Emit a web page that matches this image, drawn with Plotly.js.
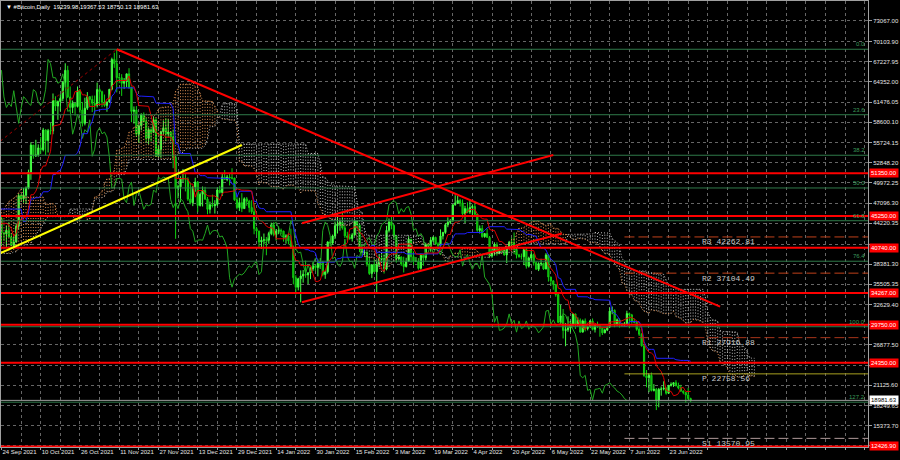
<!DOCTYPE html>
<html><head><meta charset="utf-8">
<script src="https://cdn.plot.ly/plotly-3.0.1.min.js"></script>
<style>html,body{margin:0;padding:0;background:#000;}#chart{width:900px;height:460px;}</style>
</head><body><div id="chart"></div>
<script>
// ---------- DATA (daily bars, first bar 2021-07-05) ----------
const startDate = '2021-07-05';
const closes = [
33800,34200,33900,32900,33800,33500,34250,33100,32700,32800,31800,31400,31550,31800,30800,29800,32100,32300,33600,34300,35400,37300,39400,40000,40000,42200,41600,
39900,39200,38150,39750,40900,42800,44600,43800,46300,45600,45600,44400,47800,47100,47050,45900,44700,44800,46700,49300,48900,49300,49550,47700,48950,46900,49100,48900,48800,47000,47150,
48850,49300,50000,49950,51750,52650,46800,46100,46400,44850,45150,46050,44950,47100,48150,47750,47300,48300,47250,42850,40700,43550,44900,42850,42700,43200,42250,41050,41550,43800,
48150,47700,48200,49250,51500,55350,53800,53950,54950,54700,57500,56000,57400,57350,61700,60900,61550,62000,64300,66000,62200,60700,61300,60850,63100,60350,58450,60600,62250,61850,61300,
61000,63250,62950,61450,61000,61500,63300,67550,66950,64950,64950,64150,64400,65500,63600,60150,60350,56900,58100,59750,58700,56300,57550,57150,58950,53750,54750,57250,57800,56950,
57200,56500,53600,49200,49400,50550,50600,50500,47650,47150,49400,50100,46750,48350,48900,47650,46200,46850,46700,46900,48950,48600,50800,50450,50800,50650,50650,47550,46450,47150,46300,
47700,47350,46450,45850,43450,43100,41550,41800,41850,41800,42750,43950,42600,43100,43200,43100,42250,42400,41700,40700,36450,35100,36300,36700,36950,36850,37150,37700,38150,37900,38500,
38700,36900,37300,41550,41400,42400,43850,44100,44350,43550,42400,42200,42050,42550,44550,43950,40550,40000,40100,38400,37050,38300,37300,38350,39250,39100,37700,43200,
44400,43900,42450,39150,39400,38400,38050,38750,41950,39450,38750,38800,37800,39650,39300,41150,40950,41800,42200,41250,41050,42400,42900,44000,44350,44550,46850,47100,47450,47100,45550,
46300,45800,46450,46600,45500,43200,43450,42300,42750,42200,39550,40100,41150,39950,40550,40400,39700,40800,41500,41400,40500,39700,39450,39450,40450,38100,39250,39750,38600,37650,
38450,38500,37700,39700,36550,36000,35500,34050,30100,31000,28950,29050,29300,29850,31300,29850,30400,28700,30300,29200,29450,30300,29100,29650,29550,29250,28600,29000,29450,31700,31800,
29800,30450,29700,29850,29900,31350,31150,30200,30100,29100,28400,26750,22500,22200,22550,20400,20550,19000,20550,20600,20700,20000,21100,21250,21500,21050,20750,20300,20100,19750,
19239.98,18981.63];
const highs = [
35000,35000,35000,33900,34100,34250,34600,34650,33300,33100,33200,32200,31950,32400,31900,31050,32800,32550,33650,34500,35400,40500,39500,40900,40600,42300,42400,
42600,40400,39800,39950,41400,43000,44700,45300,46450,46700,46750,46200,47900,48100,47400,48000,47100,46000,47000,49300,49750,49500,50500,49800,49300,49200,49150,49300,49600,48900,48100,
48950,50350,51000,50550,51850,52900,52850,47350,47300,47000,45950,46400,46550,47200,48450,48500,48150,48800,48350,47300,43600,44000,45000,45100,42950,43900,44350,42800,42600,44100,
48450,48350,49250,49450,51850,55750,55300,56100,55450,56500,57800,57600,57650,58500,62700,62300,61700,62600,64450,67000,66650,63700,61700,61450,63700,63300,61500,62100,62900,62300,62400,
62400,64250,63500,63100,62550,61550,63300,67800,68500,69000,65600,65450,64900,65500,66300,63600,60850,60900,58300,59850,60000,59250,57850,57750,59400,59200,55250,57400,58850,59200,
59050,57350,57600,53850,49700,50900,51950,51200,50750,50050,49450,50700,50200,48600,49450,49400,47950,47300,48300,47500,49300,49550,51350,51800,51100,51250,52050,50700,48100,47850,48500,
47900,47950,47550,47500,47050,43700,43150,42300,42750,42250,43000,44300,44350,43400,43750,43450,43150,42650,42550,43450,41050,36800,36450,37500,37550,38900,37200,38000,38650,38300,38700,
39250,38850,37400,41650,41900,42600,44450,45400,44750,45800,43900,43000,42700,42800,44700,44500,44150,40900,40400,40200,39450,38400,39100,38950,39700,40100,39800,43850,
44900,45350,44050,42500,39700,39500,39450,39300,42350,41950,40200,39400,39250,39900,39800,41450,41300,42250,42350,42300,41500,43350,43000,44200,45050,44800,46900,48200,48100,47700,47600,
46700,47200,47450,46900,47150,45500,43900,43950,42800,43400,42400,40650,41500,41500,40850,40700,40600,40950,41700,42150,42900,40800,39850,39900,40600,40750,39450,40300,39900,38750,
38650,39150,38600,39950,39800,36600,36100,35500,34250,32600,32000,30000,30950,30300,31400,31250,30800,30650,30500,30650,29600,30400,30650,29800,30200,29850,29350,29200,29500,32200,32350,
31950,30650,30650,29950,30150,31750,31500,31300,30650,30300,29400,28550,26850,23300,22750,22950,21300,20750,20750,20950,21700,20850,21200,21550,21550,21850,21500,21200,20400,20150,
20750,19367.53];
const lows = [
33200,33600,33800,32100,32300,33100,33400,32700,32300,31600,31200,31100,31200,31200,30500,29300,29500,31700,32000,33400,33900,35300,36400,38800,39300,38300,41000,
39500,38700,37600,37700,37400,39900,42500,43400,42900,44700,45400,43800,44200,45800,45600,45700,44500,44300,43950,46650,48300,48000,49050,47600,47200,46400,46400,48400,48400,46900,46800,
46800,48650,48800,49550,49500,50950,43000,44500,45550,44200,44800,44750,43400,44750,46800,47050,46800,47050,46900,42500,39600,40550,43100,40950,41700,40850,42150,40900,40800,41450,
43300,47450,47150,46950,49050,50400,53400,53650,53700,54100,54450,53900,54300,56850,56900,60200,58950,60150,61600,63550,62050,60050,59900,59550,60700,59850,58000,58150,60350,60750,60050,
59600,60700,61000,60750,60800,60100,61400,63150,66350,62850,64150,62350,63350,63600,63350,58600,58400,56500,55650,57450,58550,55700,55450,55850,57050,53650,53750,53550,56750,55900,
56550,55850,52050,42000,47750,47200,50050,48750,47400,46900,46650,48700,45800,46600,46600,47550,45500,45600,46450,45600,46650,48450,48100,50400,50200,49600,50450,47400,46200,45950,45800,
46250,46700,45750,45550,42650,42500,40800,40550,41250,39650,41300,42500,42350,41750,42650,42650,41600,41300,41200,40600,35500,34050,34650,32950,35750,36450,35550,36250,37400,37400,36650,
38050,36650,36300,37050,40950,41150,41950,42750,43150,43300,42100,41750,41850,41600,42450,43350,40100,39500,39650,38050,36850,36400,37250,34350,38050,38650,37050,37500,
42900,43350,41900,38600,38900,38150,37200,37900,38700,38600,38250,38700,37600,37600,38150,38900,40550,40150,41550,41100,40550,40900,41900,42700,43650,44100,44450,46700,46950,46600,45200,
44250,45650,45550,45150,45400,43000,42750,42150,42150,42150,39250,39300,39600,39600,39800,40050,39600,38550,40600,40900,39800,39200,39300,39050,38250,37750,37900,38900,38200,37600,
37400,38100,37550,37650,35900,35300,34750,33750,30000,29750,27800,26700,28750,28650,29500,29150,29500,28650,28700,28800,28950,29450,28950,28650,29300,28050,28300,28550,28850,29300,31250,
29400,29600,29350,29500,29500,29900,29250,29900,29950,28900,28150,26650,22350,20850,20150,20250,20250,17600,18000,19650,20400,19800,19900,20950,20900,21000,20550,20200,19850,18650,
19000,18750.13];

// axis ticks
const dateTicks = ['2021-09-24','2021-10-10','2021-10-26','2021-11-11','2021-11-27','2021-12-13','2021-12-29','2022-01-14','2022-01-30','2022-02-15','2022-03-03','2022-03-19','2022-04-04','2022-04-20','2022-05-06','2022-05-22','2022-06-07','2022-06-23'];
const priceTicks = [73067.00,70103.90,67227.95,64352.00,61476.05,58600.10,55724.15,52848.20,49972.25,47096.30,44220.35,41257.25,38381.30,35505.35,32629.40,29753.45,26877.50,24001.55,21125.60,18249.65,15373.70,12497.75];
// labels hidden behind the level boxes are left blank
const priceTickText = ['73067.00','70103.90','67227.95','64352.00','61476.05','58600.10','55724.15','52848.20','49972.25','47096.30','44220.35','','38381.30','35505.35','32629.40','','26877.50','','21125.60','18249.65','15373.70',''];

// horizontal support / resistance levels
const levelPrices = [51350.00,45250.00,40740.00,34267.00,29750.00,24350.00,12426.90];
const levelText = ['51350.00','45250.00','40740.00','34267.00','29750.00','24350.00','12426.90'];

// fibonacci retracement
const fibPrices = [69000,59672,53902,49238,44574,38804,29476,18725];
const fibText = ['0.0','23.6','38.2','50.0','61.8','76.4','100.0','127.2'];

// monthly pivots
const pivotNames = ['R3','R2','R1','P','S1'];
const pivotPrices = [42262.81,37104.49,27916.88,22758.56,13570.95];
const pivotStart = '2022-06-05';
const pivotLabelDate = '2022-07-06';

// trend lines
const trendStartDates = ['2021-11-10','2022-01-24 12:00','2022-01-24 12:00','2021-09-23 12:00','2021-09-23 12:00'];
const trendStartPrices = [69000,44207,32953,39947,55900];
const trendEndDates = ['2022-07-14','2022-05-07','2022-05-10 12:00','2021-12-31','2021-11-10'];
const trendEndPrices = [32328,53936,42755,55361,69000];

const lastPrice = 18981.63;
const headerText = '▼ #Bitcoin,Daily\u00a0\u00a019239.98 19367.53 18750.13 18981.63';

// ---------- BUILD ----------
function addDays(iso, n){ const d = new Date(iso + 'T00:00:00Z'); d.setUTCDate(d.getUTCDate() + n); return d.toISOString().slice(0,10); }
const N = closes.length;
const dates = closes.map((c,i)=>addDays(startDate,i));
const opens = closes.map((c,i)=> i===0 ? c : closes[i-1]);
const hi = highs.map((h,i)=>Math.max(h,opens[i],closes[i]));
const lo = lows.map((l,i)=>Math.min(l,opens[i],closes[i]));

function mid(i,n){ let h=-Infinity,l=Infinity; for(let k=i-n+1;k<=i;k++){ h=Math.max(h,hi[k]); l=Math.min(l,lo[k]); } return (h+l)/2; }
const tenX=[],tenY=[],kijX=[],kijY=[],chX=[],chY=[];
const spanA = {}, spanB = {};
for(let i=0;i<N;i++){
  if(i>=25){ tenX.push(dates[i]); tenY.push(mid(i,9)); kijX.push(dates[i]); kijY.push(mid(i,26));
    spanA[i+26] = (mid(i,9)+mid(i,26))/2; }
  if(i>=51){ spanB[i+26] = mid(i,52); }
  if(i>=26){ chX.push(dates[i-26]); chY.push(closes[i]); }
}
const upX=[],upY=[],dnX=[],dnY=[],aX=[],aY=[],bX=[],bY=[];
for(let j=51+26;j<N+26;j++){
  const d = addDays(startDate,j), A = spanA[j], B = spanB[j];
  aX.push(d); aY.push(A); bX.push(d); bY.push(B);
  if(A>=B){ upX.push(d,d,null); upY.push(A,B,null); } else { dnX.push(d,d,null); dnY.push(A,B,null); }
}

const orangeC = 'rgb(215,140,80)', greyC = 'rgb(190,190,190)';
const traces = [
  {type:'scatter',mode:'lines',x:upX,y:upY,line:{color:orangeC,width:1,dash:'1px,2px'},hoverinfo:'skip'},
  {type:'scatter',mode:'lines',x:dnX,y:dnY,line:{color:greyC,width:1,dash:'1px,2px'},hoverinfo:'skip'},
  {type:'scatter',mode:'lines',x:aX,y:aY,line:{color:orangeC,width:1,dash:'1px,2px'},hoverinfo:'skip'},
  {type:'scatter',mode:'lines',x:bX,y:bY,line:{color:greyC,width:1,dash:'1px,2px'},hoverinfo:'skip'},
  {type:'candlestick',x:dates,open:opens,high:hi,low:lo,close:closes,whiskerwidth:0,
   increasing:{line:{color:'#44ff44',width:1},fillcolor:'#44ff44'},
   decreasing:{line:{color:'#10d010',width:1},fillcolor:'#109a10'},hoverinfo:'skip'},
  {type:'scatter',mode:'lines',x:chX,y:chY,line:{color:'#22a822',width:1}},
  {type:'scatter',mode:'lines',x:kijX,y:kijY,line:{color:'#2020ff',width:1}},
  {type:'scatter',mode:'lines',x:tenX,y:tenY,line:{color:'#e00000',width:1}}
];

const shapes = [];
fibPrices.forEach(p=>shapes.push({type:'line',xref:'paper',x0:0,x1:1,yref:'y',y0:p,y1:p,line:{color:'#2f7a4a',width:1}}));
levelPrices.forEach(p=>shapes.push({type:'line',xref:'paper',x0:0,x1:1,yref:'y',y0:p,y1:p,line:{color:'#ff0000',width:2}}));
const pivotColors = ['#c0401a','#c0401a','#a8351a','#a8a020','#b09a9a'];
pivotPrices.forEach((p,k)=>shapes.push({type:'line',xref:'x',x0:pivotStart,x1:'2022-12-31',yref:'y',y0:p,y1:p,
  line:{color:pivotColors[k],width:1,dash: pivotNames[k]==='P' ? 'solid' : '10px,4px'}}));
shapes.push({type:'line',xref:'paper',x0:0,x1:1,yref:'y',y0:lastPrice,y1:lastPrice,line:{color:'#9a9a9a',width:1}});
const trendColors = ['#ff0000','#ff0000','#ff0000','#ffff00','#a00000'];
const trendDash = ['solid','solid','solid','solid','dot'];
trendStartDates.forEach((d,k)=>shapes.push({type:'line',xref:'x',yref:'y',x0:d,y0:trendStartPrices[k],x1:trendEndDates[k],y1:trendEndPrices[k],
  line:{color:trendColors[k],width: k===4 ? 1 : 2,dash:trendDash[k]}}));

const annotations = [];
annotations.push({xref:'paper',yref:'paper',x:0,y:1,xanchor:'left',yanchor:'middle',xshift:3,yshift:-6,text:headerText,showarrow:false,font:{size:6,color:'#ffffff'}});
fibPrices.forEach((p,k)=>annotations.push({xref:'paper',x:1,xanchor:'right',xshift:-1,yref:'y',y:p,yanchor:'bottom',text:fibText[k],showarrow:false,font:{size:6,color:'#3c9a5a'}}));
levelPrices.forEach((p,k)=>annotations.push({xref:'paper',x:1,xanchor:'left',xshift:1,yref:'y',y:p,yanchor:'middle',text:levelText[k],showarrow:false,bgcolor:'#ff0000',borderpad:1,font:{size:6,color:'#ffffff'}}));
annotations.push({xref:'paper',x:1,xanchor:'left',xshift:1,yref:'y',y:lastPrice,yanchor:'middle',text:lastPrice.toFixed(2),showarrow:false,bgcolor:'#ffffff',borderpad:1,font:{size:6,color:'#000000'}});
pivotPrices.forEach((p,k)=>annotations.push({xref:'x',x:pivotLabelDate,xanchor:'left',yref:'y',y:p,yanchor:'middle',yshift:-5,
  text:pivotNames[k]+'\u00a0'+p.toFixed(2),showarrow:false,font:{family:'Liberation Mono, DejaVu Sans Mono, monospace',size:8,color:'#c8c8c8'}}));

const gridC = '#666666', lineC = '#a0a0a0';
const layout = {
  width:900,height:460,paper_bgcolor:'#000000',plot_bgcolor:'#000000',
  margin:{l:1,r:32,t:1,b:13},showlegend:false,hovermode:false,
  font:{family:'Liberation Sans, Arial, sans-serif',size:6,color:'#e6e6e6'},
  xaxis:{type:'date',range:['2021-09-23 19:12','2022-09-12 07:26'],rangeslider:{visible:false},automargin:false,
    tickvals:dateTicks,tickformat:'%-d %b %Y',ticklabelposition:'outside right',tickangle:0,ticklabelstandoff:-1,
    ticks:'outside',ticklen:2,tickcolor:lineC,tickfont:{size:6,color:'#e6e6e6'},
    showgrid:true,gridcolor:gridC,griddash:'dot',gridwidth:1,
    showline:true,mirror:true,linecolor:lineC,linewidth:1,zeroline:false,
    minor:{tick0:'2021-09-24',dtick:8*86400000,showgrid:true,gridcolor:gridC,griddash:'dot',ticks:'outside',ticklen:2,tickcolor:lineC}},
  yaxis:{side:'right',range:[12340,75873],automargin:false,tickvals:priceTicks,ticktext:priceTickText,
    ticks:'outside',ticklen:3,tickcolor:lineC,tickfont:{size:6,color:'#e6e6e6'},
    showgrid:true,gridcolor:gridC,griddash:'dot',gridwidth:1,
    showline:true,mirror:true,linecolor:lineC,linewidth:1,zeroline:false},
  shapes:shapes,annotations:annotations
};
Plotly.newPlot('chart',traces,layout,{staticPlot:true,displayModeBar:false});
</script></body></html>
